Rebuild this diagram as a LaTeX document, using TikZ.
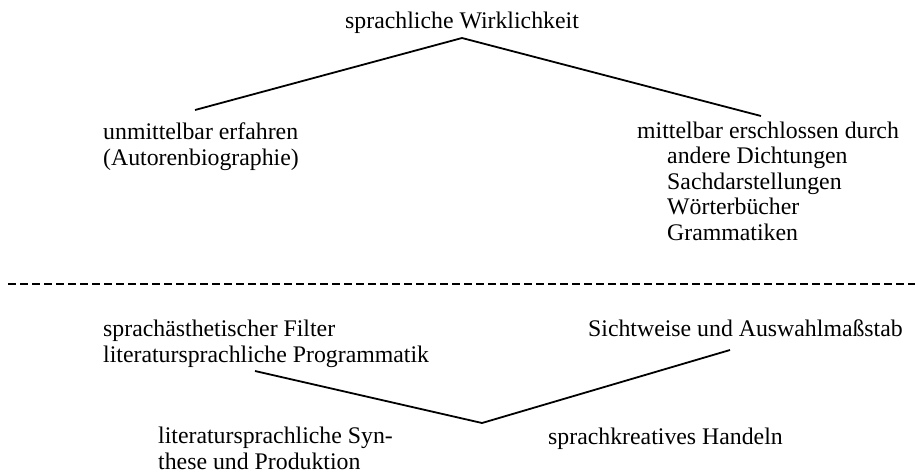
\documentclass[tikz,border=0pt]{standalone}
\usepackage{fontspec}
\setmainfont{Liberation Serif}
\newcommand{\branch}[2]{\draw[line width=1.8pt] (#1) -- (#2);}

\begin{document}
\begin{tikzpicture}[x=1pt,y=-1pt,every node/.style={inner sep=0pt,align=left,font=\fontsize{23.8}{25.5}\selectfont}]
			\useasboundingbox (0,0) rectangle (917,475);
			% multi-line nodes sit on the baseline of their last line
			\node[anchor=base](w) at (462,28) {sprachliche Wirklichkeit};
			\node[anchor=base west](u) at (103,165) {unmittelbar erfahren\\(Autorenbiographie)};
			\node[anchor=base west](m) at (637,138) {mittelbar erschlossen durch};
			\node[anchor=base west](q) at (667,240) {andere Dichtungen\\Sachdarstellungen\\W\"orterb\"ucher\\Grammatiken};
			\node[anchor=base west](f) at (103,362) {sprach\"asthetischer Filter\\literatursprachliche Programmatik};
			\node[anchor=base east](a) at (903,336) {Sichtweise und Auswahlma\ss stab};
			\node[anchor=base west](syn) at (158,469) {literatursprachliche Syn-\\these und Produktion};
			\node[anchor=base west](h) at (548,444) {sprachkreatives Handeln};
			
			\coordinate (wt) at (462,38);
			\coordinate (wl) at (195,110);
			\coordinate (wr) at (761,116);
			\coordinate (hb) at (482,423);
			\coordinate (hl) at (255,371);
			\coordinate (hr) at (730,350);
			\coordinate (sl) at (8,284);
			\coordinate (sr) at (915,284);
			
			\branch{wt}{wl}
			\branch{wt}{wr}
			\branch{hb}{hl}
			\branch{hb}{hr}
			\draw[line width=2.6pt,dash pattern=on 8pt off 4pt] (sl) -- (sr);
		\end{tikzpicture}
\end{document}
